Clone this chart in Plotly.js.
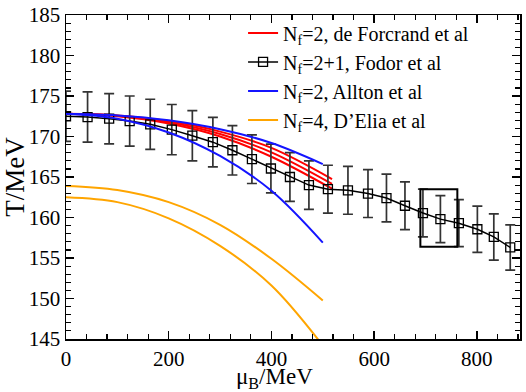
<!DOCTYPE html>
<html>
<head>
<meta charset="utf-8">
<script src="https://cdn.plot.ly/plotly-3.0.1.min.js"></script>
<style>html,body{margin:0;padding:0;background:#fff;}#chart{width:526px;height:392px;}</style>
</head>
<body>
<div id="chart"></div>
<script>
// Fodor et al (Nf=2+1) data points
var fodorMu = [0, 42, 84, 124, 164, 206, 246, 286, 324, 362, 399, 436, 473, 510, 549, 588, 624, 660, 695, 729, 765, 801, 833, 865];
var fodorT  = [172.5, 172.4, 172.2, 171.9, 171.5, 170.85, 170.1, 169.3, 168.3, 167.2, 166.05, 165.0, 164.0, 163.5, 163.35, 162.95, 162.4, 161.45, 160.55, 159.8, 159.3, 158.55, 157.6, 156.3];
var fodorErr = [3.1, 3.1, 3.1, 3.1, 3.1, 3.1, 3.1, 3.05, 3.05, 3.0, 3.0, 3.0, 3.0, 2.95, 2.95, 2.95, 2.95, 2.95, 2.95, 2.9, 2.9, 2.85, 2.85, 2.8];

// de Forcrand et al (Nf=2) band
var forcMu = [0, 100, 200, 300, 400, 518];
var forcUp = [172.8, 172.6, 171.9, 170.6, 168.6, 164.75];
var forcMid = [172.8, 172.55, 171.75, 170.3, 168.05, 164.15];
var forcLo = [172.8, 172.5, 171.6, 170.0, 167.5, 163.55];

// Allton et al (Nf=2) band
var alltMu = [0, 100, 200, 300, 400, 500];
var alltUp = [172.8, 172.6, 172.0, 170.9, 169.2, 166.6];
var alltLo = [172.8, 172.2, 170.5, 167.6, 163.3, 156.9];

// D'Elia et al (Nf=4) band
var deliaMu = [0, 100, 200, 300, 400, 500];
var deliaUp = [163.9, 163.4, 161.9, 159.1, 154.9, 149.75];
var deliaLo = [162.5, 161.9, 159.9, 156.5, 151.6, 144.2];

// highlighted box region
var boxMu = [690, 762];
var boxT = [156.4, 163.5];

var xTitle = '\u03bc<sub>B</sub>/MeV';
var yTitle = 'T/MeV';

var RED = '#ff0000', BLUE = '#1414ff', ORANGE = '#ffa500';
var lw = 2;

function curve(x, y, color, name, show) {
  return {x: x, y: y, type: 'scatter', mode: 'lines', name: name, showlegend: show,
    legendgroup: name, line: {color: color, width: lw, shape: 'spline', smoothing: 1}, hoverinfo: 'skip'};
}

var traces = [
  curve(forcMu, forcUp, RED, 'N<sub>f</sub>=2, de Forcrand et al', true),
  curve(forcMu, forcMid, RED, 'N<sub>f</sub>=2, de Forcrand et al', false),
  curve(forcMu, forcLo, RED, 'N<sub>f</sub>=2, de Forcrand et al', false),
  {x: fodorMu, y: fodorT, type: 'scatter', mode: 'lines+markers', name: 'N<sub>f</sub>=2+1, Fodor et al',
    line: {color: '#000', width: 1.5},
    marker: {symbol: 'square-open', size: 9, color: '#000', line: {width: 1.3}},
    error_y: {type: 'data', array: fodorErr, visible: true, color: '#333', thickness: 1.7, width: 5}},
  curve(alltMu, alltUp, BLUE, 'N<sub>f</sub>=2, Allton et al', true),
  curve(alltMu, alltLo, BLUE, 'N<sub>f</sub>=2, Allton et al', false),
  curve(deliaMu, deliaUp, ORANGE, 'N<sub>f</sub>=4, D\u2019Elia et al', true),
  curve(deliaMu, deliaLo, ORANGE, 'N<sub>f</sub>=4, D\u2019Elia et al', false)
];

var FONT = '"Liberation Serif", "Times New Roman", serif';
var axisCommon = {
  showline: true, linecolor: '#000', linewidth: 1.5, mirror: 'allticks',
  ticks: 'inside', ticklen: 8, tickwidth: 1.3, tickcolor: '#000',
  showgrid: false, zeroline: false,
  tickfont: {family: FONT, size: 21, color: '#000'}
};

var layout = {
  width: 526, height: 392,
  margin: {l: 66, r: 6, t: 15, b: 53},
  paper_bgcolor: '#fff', plot_bgcolor: '#fff',
  font: {family: FONT, color: '#000'},
  xaxis: Object.assign({}, axisCommon, {
    range: [0, 884], dtick: 200, tick0: 0,
    minor: {dtick: 40, ticklen: 5, tickwidth: 1.2, tickcolor: '#000', ticks: 'inside'}
  }),
  yaxis: Object.assign({}, axisCommon, {
    range: [145, 185], dtick: 5, tick0: 145,
    minor: {dtick: 1, ticklen: 5, tickwidth: 1.2, tickcolor: '#000', ticks: 'inside'},
    title: {text: yTitle, font: {family: FONT, size: 27, color: '#000'}, standoff: 0}
  }),
  legend: {x: 0.39, y: 1.005, xanchor: 'left', yanchor: 'top', bgcolor: 'rgba(0,0,0,0)',
    font: {family: FONT, size: 20, color: '#000'}, tracegroupgap: 0, traceorder: 'normal'},
  annotations: [
    {text: xTitle, xref: 'paper', yref: 'paper', x: 0.46, y: 0, xanchor: 'center', yanchor: 'top',
      yshift: -23, showarrow: false, font: {family: FONT, size: 23, color: '#000'}}
  ],
  shapes: [
    {type: 'rect', xref: 'x', yref: 'y', x0: boxMu[0], x1: boxMu[1], y0: boxT[0], y1: boxT[1],
      line: {color: '#000', width: 2}}
  ],
  showlegend: true
};

Plotly.newPlot('chart', traces, layout, {staticPlot: true});
</script>
</body>
</html>
